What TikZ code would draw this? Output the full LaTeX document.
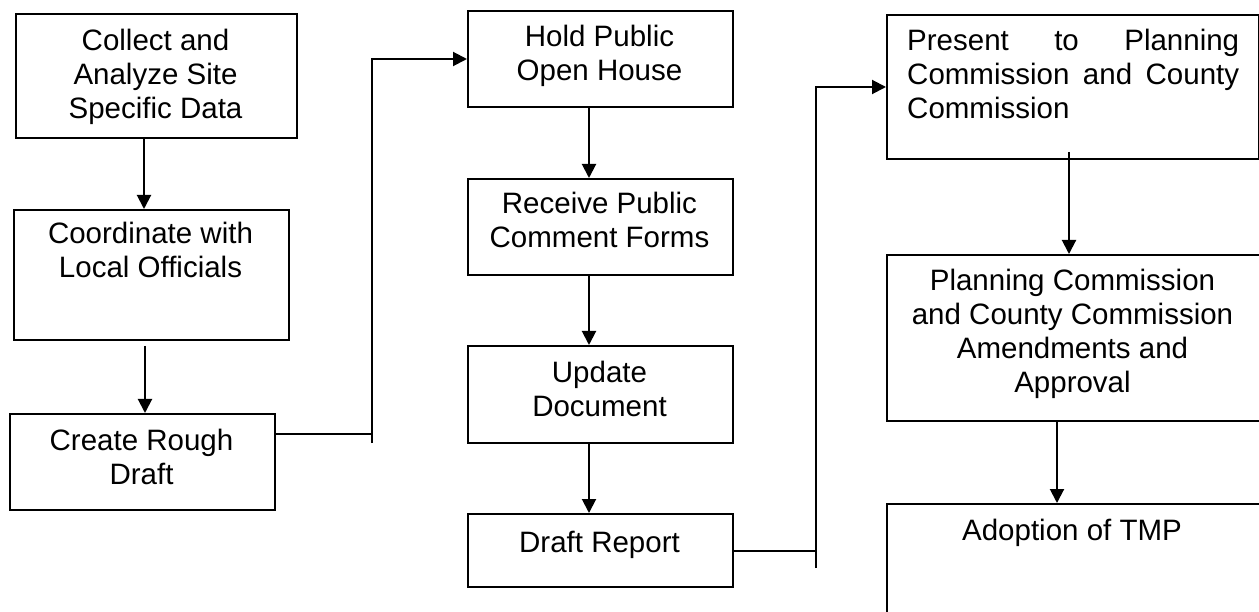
\documentclass[tikz,border=0pt]{standalone}
\usepackage{fontspec}
\setmainfont{Liberation Sans}
\usetikzlibrary{arrows.meta}
\begin{document}
\begin{tikzpicture}[x=1pt,y=-1pt,
  box/.style={draw, line width=2pt, rectangle, inner sep=0pt, anchor=north west},
  txt/.style={font=\fontsize{29.5}{34}\selectfont, align=center, inner sep=0pt, anchor=base},
  arr/.style={line width=2pt, -{Triangle[length=14pt,width=14pt]}},
  conn/.style={line width=2pt}]
\useasboundingbox (0,0) rectangle (1259,612);
% boxes
\node[box, minimum width=281pt, minimum height=124pt] (b1) at (15,13) {};
\node[box, minimum width=275pt, minimum height=130pt] (b2) at (13,209) {};
\node[box, minimum width=265pt, minimum height=96pt] (b3) at (9,413) {};
\node[box, minimum width=265pt, minimum height=96pt] (b4) at (467,10) {};
\node[box, minimum width=265pt, minimum height=96pt] (b5) at (467,178) {};
\node[box, minimum width=265pt, minimum height=97pt] (b6) at (467,345) {};
\node[box, minimum width=265pt, minimum height=73pt] (b7) at (467,513) {};
\node[box, minimum width=372pt, minimum height=144pt] (b8) at (886,14) {};
\node[box, minimum width=376pt, minimum height=166pt] (b9) at (886,254) {};
\node[box, minimum width=376pt, minimum height=140pt] (b10) at (886,503) {};
% texts (anchor = baseline of the last line)
\node[txt] (t1) at (155.5,119) {Collect and\\Analyze Site\\Specific Data};
\node[txt] (t2) at (150.5,278) {Coordinate with\\Local Officials};
\node[txt] (t3) at (141.5,484) {Create Rough\\Draft};
\node[txt] (t4) at (599.5,81) {Hold Public\\Open House};
\node[txt] (t5) at (599.5,248) {Receive Public\\Comment Forms};
\node[txt] (t6) at (599.5,417) {Update\\Document};
\node[txt] (t7) at (599.5,552) {Draft Report};
\node[txt, align=left, anchor=base west] (t8) at (907,119) {\makebox[332pt][s]{Present to Planning}\\\makebox[332pt][s]{Commission and County}\\Commission};
\node[txt] (t9) at (1072.5,392) {Planning Commission\\and County Commission\\Amendments and\\Approval};
\node[txt] (t10) at (1072,540) {Adoption of TMP};
% vertical arrows
\draw[arr] ([xshift=-12.5pt]b1.south) -- ([xshift=-12.5pt]b1.south |- b2.north);
\draw[arr] ([shift={(-6.5,5)}]b2.south) -- ([xshift=-6.5pt]b2.south |- b3.north);
\draw[arr] ([xshift=-11.5pt]b4.south) -- ([xshift=-11.5pt]b4.south |- b5.north);
\draw[arr] ([xshift=-11.5pt]b5.south) -- ([xshift=-11.5pt]b5.south |- b6.north);
\draw[arr] ([xshift=-11.5pt]b6.south) -- ([xshift=-11.5pt]b6.south |- b7.north);
\draw[arr] ([shift={(-4,-8)}]b8.south) -- ([xshift=-4pt]b8.south |- b9.north);
\draw[arr] ([xshift=-18pt]b9.south) -- ([xshift=-18pt]b9.south |- b10.north);
% elbow connectors
\coordinate (j1) at (372,434);
\coordinate (j1b) at (372,443);
\draw[conn] (b3.east |- j1) -- (j1);
\draw[arr] (j1b) -- (j1b |- b4.west) -- (b4.west);
\coordinate (j2) at (816,549.5);
\coordinate (j2b) at (816,568);
\draw[conn] (b7.east) -- (b7.east -| j2);
\draw[arr] (j2b) -- (j2b |- b8.west) -- (b8.west);
\end{tikzpicture}
\end{document}
